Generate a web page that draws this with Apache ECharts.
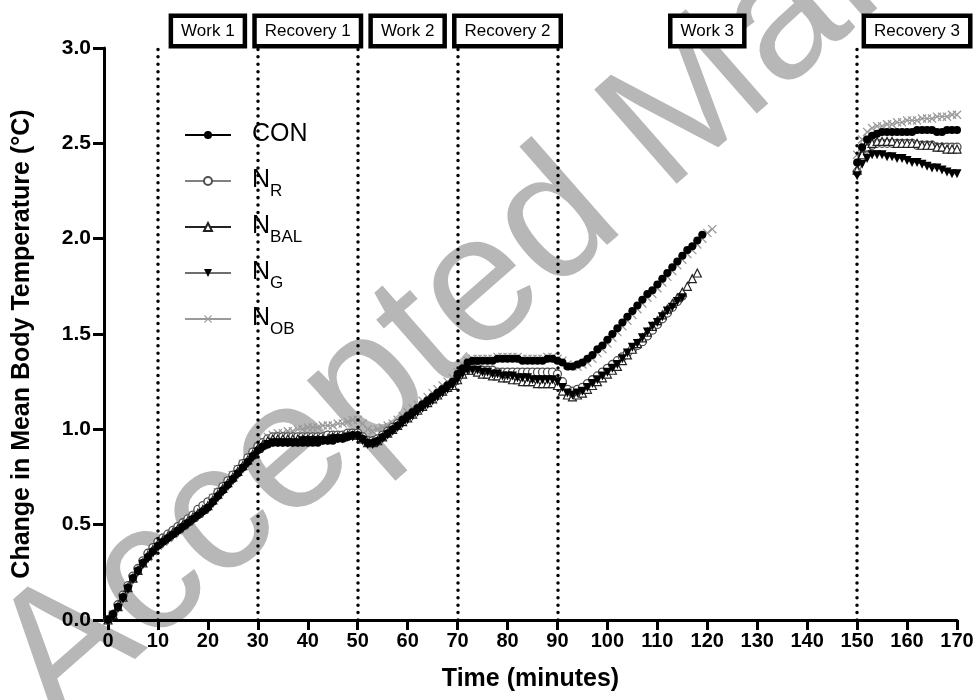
<!DOCTYPE html>
<html>
<head>
<meta charset="utf-8">
<title>Change in Mean Body Temperature</title>
<script src="https://cdn.jsdelivr.net/npm/echarts@6/dist/echarts.min.js"></script>
<style>
  html, body { margin: 0; padding: 0; background: #fff; }
  #chart { width: 980px; height: 700px; }
</style>
</head>
<body>
<div id="chart"></div>
<script>
// Sampling times (minutes)
const minutesWork = [
  0,1,2,3,4,5,6,7,8,9,10,11,12,13,14,15,16,17,18,19,
  20,21,22,23,24,25,26,27,28,29,30,31,32,33,34,35,36,37,38,39,
  40,41,42,43,44,45,46,47,48,49,50,51,52,53,54,55,56,57,58,59,
  60,61,62,63,64,65,66,67,68,69,70,71,72,73,74,75,76,77,78,79,
  80,81,82,83,84,85,86,87,88,89,90,91,92,93,94,95,96,97,98,99,
  100,101,102,103,104,105,106,107,108,109,110,111,112,113,114,115,116,117,118,119,
  120,121
];
const minutesRec3 = [150,151,152,153,154,155,156,157,158,159,160,161,162,163,164,165,166,167,168,169,170];

// Change in mean body temperature (°C), 0 min onwards
const conWork = [
  0.00,0.03,0.07,0.12,0.17,0.22,0.26,0.30,0.33,0.36,
  0.39,0.41,0.43,0.45,0.47,0.49,0.51,0.53,0.55,0.57,
  0.59,0.62,0.65,0.68,0.71,0.74,0.77,0.80,0.83,0.86,
  0.89,0.91,0.92,0.93,0.93,0.93,0.93,0.93,0.93,0.93,
  0.93,0.93,0.93,0.94,0.94,0.94,0.95,0.95,0.96,0.97,
  0.97,0.95,0.93,0.93,0.94,0.96,0.98,1.00,1.02,1.05,
  1.07,1.09,1.11,1.13,1.15,1.17,1.19,1.21,1.23,1.25,
  1.29,1.32,1.35,1.36,1.36,1.36,1.36,1.36,1.37,1.37,
  1.37,1.37,1.37,1.36,1.36,1.36,1.36,1.36,1.37,1.37,
  1.36,1.35,1.33,1.33,1.34,1.35,1.37,1.39,1.42,1.44,
  1.47,1.50,1.53,1.56,1.59,1.62,1.65,1.68,1.71,1.73,
  1.76,1.79,1.82,1.85,1.88,1.91,1.94,1.96,1.99,2.02
];
const nrWork = [
  0.00,0.03,0.08,0.13,0.18,0.23,0.27,0.31,0.35,0.38,
  0.41,0.43,0.45,0.47,0.49,0.51,0.53,0.55,0.58,0.60,
  0.62,0.64,0.67,0.70,0.73,0.76,0.79,0.82,0.85,0.88,
  0.91,0.93,0.95,0.96,0.96,0.96,0.96,0.96,0.96,0.96,
  0.96,0.96,0.96,0.96,0.97,0.97,0.97,0.97,0.98,0.98,
  0.98,0.96,0.94,0.94,0.95,0.97,0.99,1.01,1.03,1.05,
  1.07,1.09,1.11,1.13,1.15,1.17,1.19,1.21,1.23,1.24,
  1.27,1.30,1.32,1.32,1.32,1.31,1.31,1.31,1.30,1.30,
  1.30,1.30,1.30,1.30,1.30,1.30,1.30,1.30,1.30,1.30,
  1.29,1.25,1.21,1.20,1.21,1.22,1.24,1.26,1.28,1.30,
  1.32,1.34,1.36,1.38,1.40,1.42,1.44,1.46,1.49,1.52,
  1.55,1.58,1.61,1.64,1.67,1.70
];
const nbalWork = [
  0.00,0.03,0.07,0.12,0.17,0.22,0.26,0.30,0.34,0.37,
  0.40,0.42,0.44,0.46,0.48,0.50,0.52,0.54,0.56,0.58,
  0.60,0.63,0.66,0.69,0.72,0.75,0.78,0.81,0.84,0.87,
  0.90,0.92,0.94,0.95,0.95,0.95,0.95,0.95,0.95,0.95,
  0.95,0.95,0.95,0.95,0.95,0.96,0.96,0.96,0.97,0.97,
  0.97,0.95,0.93,0.93,0.94,0.96,0.98,1.00,1.02,1.04,
  1.06,1.08,1.10,1.12,1.14,1.16,1.18,1.20,1.22,1.23,
  1.26,1.29,1.31,1.31,1.30,1.29,1.29,1.28,1.28,1.27,
  1.27,1.26,1.26,1.25,1.25,1.25,1.24,1.24,1.24,1.24,
  1.23,1.20,1.18,1.17,1.18,1.19,1.21,1.23,1.25,1.27,
  1.29,1.31,1.33,1.36,1.39,1.42,1.45,1.48,1.51,1.54,
  1.57,1.60,1.63,1.66,1.69,1.72,1.75,1.79,1.82
];
const ngWork = [
  0.00,0.02,0.06,0.11,0.16,0.21,0.25,0.29,0.32,0.35,
  0.38,0.40,0.42,0.44,0.46,0.48,0.50,0.52,0.54,0.56,
  0.58,0.61,0.64,0.67,0.70,0.73,0.76,0.79,0.82,0.85,
  0.88,0.90,0.92,0.93,0.93,0.93,0.93,0.93,0.93,0.94,
  0.94,0.94,0.94,0.94,0.94,0.95,0.95,0.95,0.96,0.96,
  0.96,0.94,0.92,0.92,0.93,0.95,0.97,0.99,1.01,1.03,
  1.05,1.07,1.09,1.11,1.13,1.15,1.17,1.19,1.21,1.23,
  1.26,1.29,1.31,1.31,1.31,1.30,1.30,1.29,1.29,1.28,
  1.28,1.28,1.27,1.27,1.27,1.26,1.26,1.26,1.26,1.26,
  1.25,1.22,1.19,1.18,1.19,1.20,1.22,1.24,1.26,1.28,
  1.30,1.32,1.34,1.37,1.40,1.43,1.45,1.48,1.51,1.54,
  1.56,1.59,1.62,1.64,1.67,1.69
];
const nobWork = [
  0.00,0.03,0.07,0.12,0.17,0.22,0.26,0.30,0.33,0.36,
  0.39,0.41,0.43,0.45,0.47,0.49,0.52,0.54,0.56,0.58,
  0.61,0.64,0.67,0.70,0.73,0.76,0.79,0.82,0.85,0.88,
  0.91,0.94,0.96,0.97,0.98,0.98,0.99,0.99,1.00,1.00,
  1.01,1.01,1.01,1.02,1.02,1.02,1.03,1.03,1.04,1.05,
  1.05,1.03,1.00,0.99,1.00,1.01,1.02,1.03,1.05,1.07,
  1.09,1.11,1.13,1.15,1.17,1.19,1.21,1.23,1.25,1.27,
  1.30,1.34,1.36,1.37,1.37,1.37,1.37,1.37,1.38,1.38,
  1.38,1.38,1.38,1.37,1.37,1.37,1.37,1.37,1.38,1.38,
  1.37,1.36,1.34,1.33,1.33,1.34,1.35,1.37,1.40,1.42,
  1.45,1.48,1.51,1.54,1.57,1.60,1.63,1.66,1.69,1.71,
  1.74,1.77,1.80,1.83,1.86,1.89,1.92,1.94,1.97,2.00,
  2.03,2.05
];

// Recovery 3 (150–170 min)
const conRec3  = [2.40,2.48,2.52,2.54,2.55,2.56,2.56,2.56,2.56,2.56,2.56,2.56,2.57,2.57,2.57,2.57,2.56,2.56,2.57,2.57,2.57];
const nrRec3   = [2.35,2.43,2.47,2.49,2.50,2.50,2.50,2.50,2.50,2.50,2.50,2.50,2.49,2.49,2.49,2.49,2.48,2.48,2.48,2.48,2.48];
const nbalRec3 = [2.36,2.44,2.48,2.50,2.51,2.51,2.51,2.51,2.50,2.50,2.50,2.50,2.50,2.49,2.49,2.49,2.48,2.48,2.47,2.47,2.47];
const ngRec3   = [2.33,2.39,2.42,2.44,2.44,2.44,2.43,2.43,2.42,2.42,2.41,2.40,2.40,2.39,2.38,2.37,2.37,2.36,2.35,2.34,2.34];
const nobRec3  = [2.44,2.52,2.56,2.58,2.59,2.59,2.60,2.60,2.61,2.61,2.62,2.62,2.62,2.63,2.63,2.63,2.64,2.64,2.64,2.65,2.65];

// Axis ticks and protocol phases
const xTicks = [0,10,20,30,40,50,60,70,80,90,100,110,120,130,140,150,160,170];
const yTicks = [0,0.5,1.0,1.5,2.0,2.5,3.0];
const phaseBounds = [10,30,50,70,90,150];
const phaseNames = ['Work 1','Recovery 1','Work 2','Recovery 2','Work 3','Recovery 3'];
const phaseCentres = [20,40,60,80,120,162];

const FONT = '"Liberation Sans", Arial, Helvetica, sans-serif';

function pairs(times, values) {
  return values.map((v, i) => [times[i], v]);
}

const crossSymbol = 'path://M1,0 L5,4 L9,0 L10,1 L6,5 L10,9 L9,10 L5,6 L1,10 L0,9 L4,5 L0,1 Z';
const downTriangle = 'path://M0,0 L10,0 L5,9 Z';

const groups = [
  { name: 'NOB',  work: nobWork,  rec: nobRec3,  symbol: crossSymbol, size: 9,
    line: '#9a9a9a', item: { color: '#9a9a9a', borderWidth: 0 } },
  { name: 'NR',   work: nrWork,   rec: nrRec3,   symbol: 'circle', size: 8,
    line: '#808080', item: { color: '#ffffff', borderColor: '#505050', borderWidth: 1.3 } },
  { name: 'NBAL', work: nbalWork, rec: nbalRec3, symbol: 'triangle', size: 8,
    line: '#222222', item: { color: '#ffffff', borderColor: '#222222', borderWidth: 1.2 } },
  { name: 'NG',   work: ngWork,   rec: ngRec3,   symbol: downTriangle, size: 9,
    line: '#6e6e6e', item: { color: '#000000', borderWidth: 0 } },
  { name: 'CON',  work: conWork,  rec: conRec3,  symbol: 'circle', size: 8,
    line: '#000000', item: { color: '#000000', borderWidth: 0 } }
];

const series = [];
groups.forEach((g, gi) => {
  [g.work, g.rec].forEach((vals, k) => {
    series.push({
      type: 'line',
      name: g.name,
      data: pairs(k === 0 ? minutesWork : minutesRec3, vals),
      symbol: g.symbol,
      symbolSize: g.size,
      showAllSymbol: true,
      lineStyle: { color: g.line, width: 1 },
      itemStyle: Object.assign({}, g.item),
      z: 3 + gi,
      animation: false
    });
  });
});

// Dotted phase boundaries
series[0].markLine = {
  silent: true,
  symbol: ['none', 'none'],
  label: { show: false },
  lineStyle: { color: '#000', width: 3.5, type: [0.01, 7.4], cap: 'round' },
  data: phaseBounds.map(b => ({ xAxis: b })),
  animation: false
};

const subscripts = { CON: '', NR: 'R', NBAL: 'BAL', NG: 'G', NOB: 'OB' };

const chart = echarts.init(document.getElementById('chart'), null, { renderer: 'canvas' });

chart.setOption({
  animation: false,
  backgroundColor: '#ffffff',
  grid: { left: 104, right: 23, top: 48, bottom: 80, containLabel: false },
  legend: {
    data: ['CON', 'NR', 'NBAL', 'NG', 'NOB'],
    orient: 'vertical',
    left: 179,
    top: 117,
    itemWidth: 46,
    itemHeight: 10,
    itemGap: 14,
    selectedMode: false,
    formatter: function (name) {
      if (name === 'CON') return '{n|CON}{s|\u200b}';
      return '{n|N}{s|' + subscripts[name] + '}';
    },
    textStyle: {
      padding: [0, 0, 0, 16],
      rich: {
        n: { fontFamily: FONT, fontSize: 25, lineHeight: 26, verticalAlign: 'top', color: '#000' },
        s: { fontFamily: FONT, fontSize: 17, lineHeight: 18, padding: [15, 0, 0, 0], verticalAlign: 'top', color: '#000' }
      }
    }
  },
  xAxis: {
    type: 'value',
    min: -0.8,
    max: 170,
    name: 'Time (minutes)',
    nameLocation: 'middle',
    nameGap: 47,
    nameTextStyle: { fontFamily: FONT, fontSize: 25, fontWeight: 'bold', color: '#000' },
    axisLine: { show: true, onZero: false, lineStyle: { color: '#000', width: 3 } },
    axisTick: { show: true, length: 10, lineStyle: { color: '#000', width: 3 }, customValues: xTicks },
    axisLabel: { fontFamily: FONT, fontSize: 20, fontWeight: 'bold', color: '#000', margin: 11, customValues: xTicks },
    splitLine: { show: false }
  },
  yAxis: {
    type: 'value',
    min: 0,
    max: 3,
    name: 'Change in Mean Body Temperature (°C)',
    nameLocation: 'middle',
    nameGap: 69,
    nameTextStyle: {
      fontFamily: FONT, fontSize: 25, fontWeight: 'bold', color: '#000',
      padding: [0, 20, 0, 0]
    },
    axisLine: { show: true, onZero: false, lineStyle: { color: '#000', width: 3 } },
    axisTick: { show: true, length: 11, lineStyle: { color: '#000', width: 3 }, customValues: yTicks },
    axisLabel: {
      fontFamily: FONT, fontSize: 21, fontWeight: 'bold', color: '#000', margin: 13,
      customValues: yTicks, formatter: v => v.toFixed(1)
    },
    splitLine: { show: false }
  },
  series: series
});

// Phase labels above the plot, plus the manuscript watermark beneath everything
const gfx = [{
  type: 'text',
  silent: true,
  z: -10,
  x: 84,
  y: 758,
  rotation: 0.72,
  style: {
    text: 'Accepted Manuscript',
    fill: '#b7b7b7',
    font: '182px ' + FONT,
    align: 'left',
    verticalAlign: 'bottom'
  }
}];
phaseNames.forEach((label, i) => {
  const px = chart.convertToPixel({ xAxisIndex: 0 }, phaseCentres[i]);
  gfx.push({
    type: 'text',
    silent: true,
    z: 20,
    x: px,
    y: 31,
    style: {
      text: label,
      font: '17px ' + FONT,
      fill: '#000',
      align: 'center',
      verticalAlign: 'middle',
      backgroundColor: '#fff',
      borderColor: '#000',
      borderWidth: 4.5,
      padding: [5, 8, 4, 8]
    }
  });
});
chart.setOption({ graphic: gfx });
</script>
</body>
</html>
